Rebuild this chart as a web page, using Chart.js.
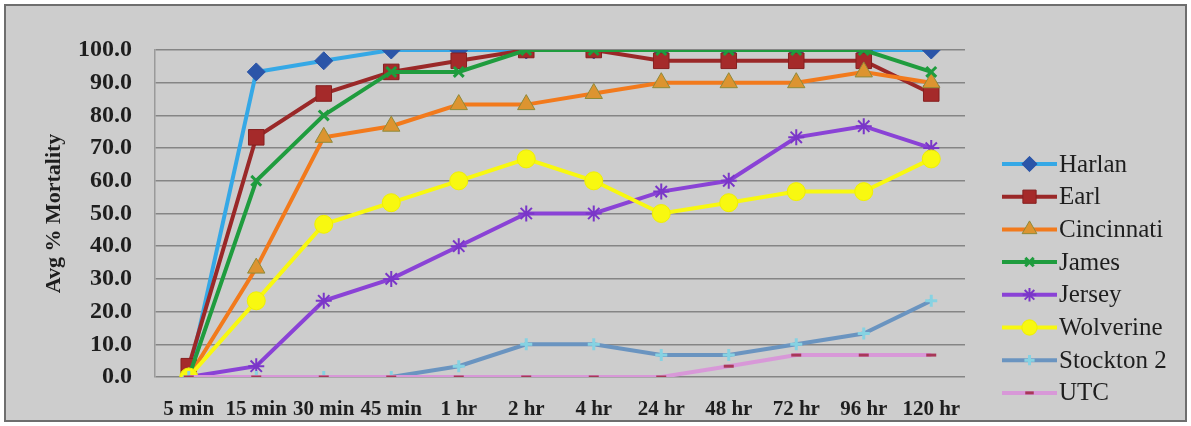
<!DOCTYPE html>
<html>
<head>
<meta charset="utf-8">
<script src="https://cdn.jsdelivr.net/npm/chart.js@4/dist/chart.umd.min.js"></script>
<style>
  html, body { margin: 0; padding: 0; background: #fff; }
  #wrap { width: 1191px; height: 426px; }
</style>
</head>
<body>
<div id="wrap"><canvas id="mortChart" width="1191" height="426"></canvas></div>
<script>
    // time points and series (avg % mortality)
    const timeLabels = ['5 min', '15 min', '30 min', '45 min', '1 hr', '2 hr', '4 hr', '24 hr', '48 hr', '72 hr', '96 hr', '120 hr'];
    const yTicks = [0, 10, 20, 30, 40, 50, 60, 70, 80, 90, 100];

    const harlan     = [0, 93.3, 96.7, 100, 100, 100, 100, 100, 100, 100, 100, 100];
    const earl       = [3.3, 73.3, 86.7, 93.3, 96.7, 100, 100, 96.7, 96.7, 96.7, 96.7, 86.7];
    const cincinnati = [0, 33.3, 73.3, 76.7, 83.3, 83.3, 86.7, 90, 90, 90, 93.3, 90];
    const james      = [0, 60, 80, 93.3, 93.3, 100, 100, 100, 100, 100, 100, 93.3];
    const jersey     = [0, 3.3, 23.3, 30, 40, 50, 50, 56.7, 60, 73.3, 76.7, 70];
    const wolverine  = [0, 23.3, 46.7, 53.3, 60, 66.7, 60, 50, 53.3, 56.7, 56.7, 66.7];
    const stockton2  = [0, 0, 0, 0, 3.3, 10, 10, 6.7, 6.7, 10, 13.3, 23.3];
    const utc        = [0, 0, 0, 0, 0, 0, 0, 0, 3.3, 6.7, 6.7, 6.7];

    const serif = '"Liberation Serif", "Times New Roman", serif';

    function series(label, data, line, fill, border, style, radius, bw) {
        return {
            label: label,
            data: data,
            borderColor: line,
            backgroundColor: fill,
            pointBackgroundColor: fill,
            pointBorderColor: border,
            pointBorderWidth: bw,
            pointStyle: style,
            pointRadius: radius,
            pointHoverRadius: radius,
            borderWidth: 4,
            tension: 0,
            fill: false
        };
    }

    const datasets = [
        series('Harlan', harlan, '#35a8e6', '#2b55a8', '#2b55a8', 'rectRot', 9, 1),
        series('Earl', earl, '#9a2828', '#a52a2a', '#862020', 'rect', 11, 1),
        series('Cincinnati', cincinnati, '#f27a1c', '#dc9430', '#8e8a3a', 'triangle', 10, 1),
        series('James', james, '#1f9c3e', '#1f9c3e', '#1f9c3e', 'crossRot', 7, 3),
        series('Jersey', jersey, '#8a42d6', '#8a42d6', '#7a36c8', 'star', 8, 2),
        series('Wolverine', wolverine, '#f8f810', '#f8f810', '#f0f000', 'circle', 9, 1),
        series('Stockton 2', stockton2, '#6a94c0', '#86d2e2', '#86d2e2', 'cross', 6, 3),
        series('UTC', utc, '#d898d8', '#a83858', '#a83858', 'line', 5, 3)
    ];
    // Excel draws later series on top
    datasets.forEach((d, i) => { d.order = datasets.length - i; });

    const frame = {
        id: 'frame',
        beforeDraw(chart) {
            const c = chart.ctx;
            c.save();
            c.fillStyle = '#ffffff';
            c.fillRect(0, 0, chart.width, chart.height);
            c.fillStyle = '#cdcdcd';
            c.fillRect(5, 5, 1181, 416);
            c.strokeStyle = '#6e6e6e';
            c.lineWidth = 2;
            c.strokeRect(5, 5, 1181, 416);
            c.restore();
        }
    };

    const sideLegend = {
        id: 'sideLegend',
        afterDraw(chart) {
            const c = chart.ctx;
            const x0 = 1002, x1 = 1057, top = 164, step = 32.7;
            c.save();
            chart.data.datasets.forEach((ds, i) => {
                const y = top + i * step;
                c.strokeStyle = ds.borderColor;
                c.lineWidth = 4;
                c.beginPath();
                c.moveTo(x0, y);
                c.lineTo(x1, y);
                c.stroke();
                c.fillStyle = ds.pointBackgroundColor;
                c.strokeStyle = ds.pointBorderColor;
                c.lineWidth = ds.pointBorderWidth;
                Chart.helpers.drawPoint(c, {
                    pointStyle: ds.pointStyle,
                    radius: ds.pointRadius * 0.85,
                    rotation: 0,
                    borderWidth: ds.pointBorderWidth
                }, (x0 + x1) / 2, y);
                c.fillStyle = '#1e1e1e';
                c.font = '25px ' + serif;
                c.textBaseline = 'middle';
                c.textAlign = 'left';
                c.fillText(ds.label, x1 + 2, y + 1);
            });
            c.restore();
        }
    };

    const ctx = document.getElementById('mortChart').getContext('2d');

    const mortChart = new Chart(ctx, {
        type: 'line',
        data: {
            labels: timeLabels,
            datasets: datasets
        },
        options: {
            responsive: false,
            animation: false,
            layout: {
                padding: { top: 50, right: 226, bottom: 0, left: 0 }
            },
            plugins: {
                legend: { display: false },
                tooltip: { enabled: false }
            },
            scales: {
                x: {
                    type: 'category',
                    offset: true,
                    grid: { display: false, drawTicks: false },
                    border: { display: false },
                    ticks: {
                        padding: 20,
                        maxRotation: 0,
                        autoSkip: false,
                        color: '#1e1e1e',
                        font: { family: serif, size: 21, weight: 'bold' }
                    },
                    afterFit(scale) { scale.height = 49; }
                },
                y: {
                    min: 0,
                    max: 100,
                    afterBuildTicks(scale) {
                        scale.ticks = yTicks.map(v => ({ value: v }));
                    },
                    grid: {
                        color: '#858585',
                        lineWidth: 1.5,
                        drawTicks: false
                    },
                    border: { display: true, color: '#9a9a9a', width: 1.5 },
                    ticks: {
                        padding: 23,
                        color: '#1e1e1e',
                        font: { family: serif, size: 24, weight: 'bold' },
                        callback: v => Number(v).toFixed(1)
                    },
                    title: {
                        display: true,
                        text: 'Avg % Mortality',
                        color: '#1e1e1e',
                        font: { family: serif, size: 22, weight: 'bold' },
                        padding: { top: 41, bottom: 0 }
                    },
                    afterFit(scale) { scale.width = 155; }
                }
            }
        },
        plugins: [frame, sideLegend]
    });
</script>
</body>
</html>
